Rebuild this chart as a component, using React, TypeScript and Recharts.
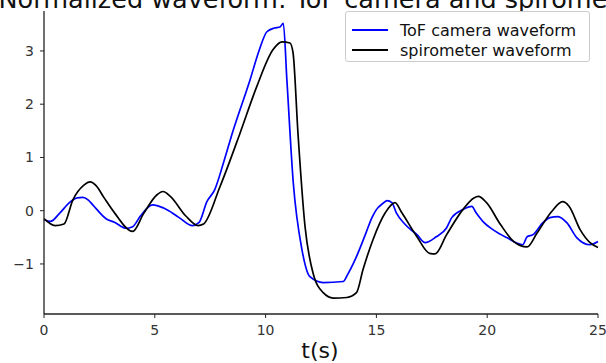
import { Line, LineChart, XAxis, YAxis } from "recharts";

// ToF camera waveform (blue)
const tofTime = [
  0, 0.3, 0.7, 1.2, 1.5, 1.75, 2.0, 2.2, 2.8, 3.2, 3.7, 4.0, 4.35, 4.9, 5.4, 6.1, 6.7, 7.0, 7.35, 7.7,
  8.1, 8.5, 9.3, 9.7, 10.06, 10.4, 10.65, 10.8, 10.96, 11.25, 11.64, 12.0, 12.6, 13.5, 13.7, 14.04,
  14.5, 14.8, 15.0, 15.3, 15.48, 15.7, 15.9, 16.3, 16.83, 17.2, 17.7, 18.17, 18.4, 18.9, 19.3, 19.5,
  19.8, 20.27, 20.9, 21.6, 21.8, 22.07, 22.5, 22.83, 23.2, 23.6, 24.05, 24.64, 25,
];
const tofValue = [
  -0.17, -0.2, -0.05, 0.17, 0.24, 0.25, 0.2, 0.11, -0.15, -0.22, -0.33, -0.3, -0.1, 0.11, 0.05, -0.13,
  -0.28, -0.22, 0.17, 0.39, 0.9, 1.46, 2.46, 3.0, 3.36, 3.43, 3.45, 3.52, 2.46, 0.52, -0.73, -1.24, -1.35,
  -1.33, -1.2, -0.92, -0.45, -0.13, 0.02, 0.14, 0.19, 0.15, -0.04, -0.26, -0.45, -0.6, -0.49, -0.32, -0.13,
  0.02, 0.08, -0.04, -0.2, -0.36, -0.51, -0.64, -0.49, -0.45, -0.23, -0.13, -0.11, -0.23, -0.51, -0.64,
  -0.58,
];

// spirometer waveform (black)
const spiroTime = [
  0, 0.5, 0.9, 1.3, 1.8, 2.08, 2.35, 2.7, 3.2, 4.0, 4.5, 5.1, 5.37, 5.7, 6.4, 6.95, 7.2, 7.94, 8.85, 9.6,
  10.33, 10.74, 11.1, 11.24, 11.46, 11.78, 12.14, 12.6, 13.05, 13.67, 14.1, 14.4, 14.85, 15.4, 15.84,
  16.15, 16.83, 17.4, 17.65, 18.17, 18.9, 19.4, 19.6, 19.97, 20.6, 21.2, 21.8, 22.25, 22.9, 23.4, 23.7,
  24.2, 24.64, 25,
];
const spiroValue = [
  -0.15, -0.28, -0.25, 0.2, 0.48, 0.54, 0.47, 0.25, -0.05, -0.39, -0.05, 0.3, 0.36, 0.27, -0.1, -0.28,
  -0.25, 0.45, 1.46, 2.33, 3.02, 3.17, 3.15, 2.96, 1.46, -0.3, -1.17, -1.54, -1.64, -1.63, -1.54, -1.1,
  -0.54, -0.04, 0.15, -0.04, -0.49, -0.8, -0.81, -0.45, 0.02, 0.24, 0.27, 0.15, -0.26, -0.58, -0.68,
  -0.42, -0.02, 0.17, 0.08, -0.36, -0.6, -0.69,
];

const xTicks = [0, 5, 10, 15, 20, 25];
const yTicks = [-1, 0, 1, 2, 3];
const seriesNames = ["ToF camera waveform", "spirometer waveform"];
const seriesColors = ["#0000ff", "#000000"];

const tofData = tofTime.map((t, i) => ({ t, v: tofValue[i] }));
const spiroData = spiroTime.map((t, i) => ({ t, v: spiroValue[i] }));

const font = "DejaVu Sans, sans-serif";
const tickStyle = { fontSize: 14, fill: "#333", fontFamily: font };

export default function App() {
  return (
    <div style={{ position: "relative", width: 606, height: 363, overflow: "hidden", background: "#fff" }}>
      <style>{`body{margin:0}`}</style>
      <LineChart width={606} height={363} data={tofData} margin={{ top: 11, right: 8, bottom: 0, left: 0 }}>
        <XAxis
          dataKey="t"
          type="number"
          domain={[0, 25]}
          ticks={xTicks}
          height={49}
          tickSize={4}
          tickMargin={7}
          tick={tickStyle}
          axisLine={{ stroke: "#222", strokeWidth: 1.3 }}
          tickLine={{ stroke: "#222" }}
        />
        <XAxis
          xAxisId="top"
          orientation="top"
          type="number"
          domain={[0, 25]}
          height={0}
          tick={false}
          tickLine={false}
          axisLine={{ stroke: "#222", strokeWidth: 1.3 }}
        />
        <YAxis
          type="number"
          domain={[-1.94, 3.75]}
          ticks={yTicks}
          width={44}
          tickSize={4}
          tickMargin={6}
          tick={tickStyle}
          tickFormatter={(v: number) => (v < 0 ? `\u2212${Math.abs(v)}` : `${v}`)}
          allowDataOverflow
          axisLine={{ stroke: "#222", strokeWidth: 1.3 }}
          tickLine={{ stroke: "#222" }}
        />
        <YAxis
          yAxisId="right"
          orientation="right"
          width={0}
          domain={[-1.94, 3.75]}
          tick={false}
          tickLine={false}
          axisLine={{ stroke: "#222", strokeWidth: 1.3 }}
        />
        <Line
          data={tofData}
          dataKey="v"
          type="monotone"
          stroke={seriesColors[0]}
          strokeWidth={1.7}
          dot={false}
          isAnimationActive={false}
        />
        <Line
          data={spiroData}
          dataKey="v"
          type="monotone"
          stroke={seriesColors[1]}
          strokeWidth={1.7}
          dot={false}
          isAnimationActive={false}
        />
      </LineChart>
      <svg width={606} height={363} style={{ position: "absolute", left: 0, top: 0, pointerEvents: "none" }}>
        <text x={321} y={7.5} textAnchor="middle" fontSize={25.5} fontFamily={font} fill="#111">
          Normalized waveform: ToF camera and spirometer
        </text>
        <text x={320} y={358} textAnchor="middle" fontSize={22} fontFamily={font} fill="#111">
          t(s)
        </text>
      </svg>
      <div
        style={{
          position: "absolute",
          left: 345,
          top: 11,
          width: 245,
          height: 51,
          boxSizing: "border-box",
          border: "1px solid #ccc",
          borderRadius: 3,
          background: "#fff",
          fontFamily: font,
          fontSize: 16,
          color: "#111",
        }}
      >
        {seriesNames.map((name, i) => (
          <div key={name} style={{ position: "absolute", left: 6, top: 8 + i * 20, display: "flex", alignItems: "center", height: 20 }}>
            <span style={{ display: "inline-block", width: 36, height: 0, borderTop: `2px solid ${seriesColors[i]}`, marginRight: 12 }} />
            <span>{name}</span>
          </div>
        ))}
      </div>
    </div>
  );
}
